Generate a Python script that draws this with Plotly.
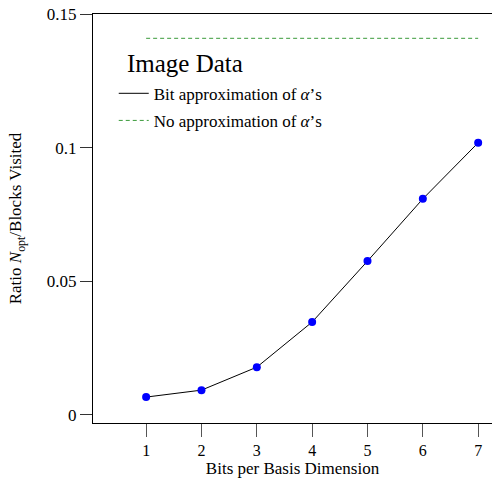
import plotly.graph_objects as go

bits = [1, 2, 3, 4, 5, 6, 7]
ratio_bit = [0.0066, 0.0092, 0.0178, 0.0347, 0.0575, 0.0808, 0.1018]
ratio_noapprox = [0.1409, 0.1409]
noapprox_x = [1, 7]
y_ticks = [0, 0.05, 0.1, 0.15]
y_ticklabels = ["0", "0.05", "0.1", "0.15"]

FONT = "Liberation Serif"

fig = go.Figure()
fig.add_trace(go.Scatter(
    x=bits, y=ratio_bit, mode="lines",
    line=dict(color="black", width=1),
    name="Bit approximation of <i>α</i>’s", legendgroup="a",
))
fig.add_trace(go.Scatter(
    x=noapprox_x, y=ratio_noapprox, mode="lines",
    line=dict(color="#3a9a3a", width=1, dash="4px,3px"),
    name="No approximation of <i>α</i>’s", legendgroup="b",
))
fig.add_trace(go.Scatter(
    x=bits, y=ratio_bit, mode="markers",
    marker=dict(color="#0000ff", size=8),
    showlegend=False,
))

fig.add_annotation(
    text="Image Data", xref="paper", yref="paper", x=0.080, y=0.880,
    xanchor="left", yanchor="middle", showarrow=False,
    font=dict(size=25, family=FONT, color="black"),
)

fig.update_layout(
    width=492, height=481,
    margin=dict(l=93, r=0, t=14, b=58),
    paper_bgcolor="white", plot_bgcolor="white",
    font=dict(family=FONT, color="black", size=16),
    legend=dict(
        x=0.052, y=0.849, xanchor="left", yanchor="top",
        font=dict(size=17, family=FONT),
        bgcolor="rgba(0,0,0,0)", itemwidth=30, tracegroupgap=2,
    ),
    xaxis=dict(
        range=[0.04, 7.25], tickvals=bits, ticktext=[str(b) for b in bits],
        showgrid=False, zeroline=False, showline=True, linecolor="black", linewidth=1,
        mirror=True, ticks="outside", ticklen=13, tickcolor="#555", tickwidth=1,
        title=dict(text="Bits per Basis Dimension", font=dict(size=17), standoff=2),
        tickfont=dict(size=16),
    ),
    yaxis=dict(
        range=[-0.0031, 0.15], tickvals=y_ticks, ticktext=y_ticklabels,
        showgrid=False, zeroline=False, showline=True, linecolor="black", linewidth=1,
        ticks="outside", ticklen=12, tickcolor="#333", tickwidth=1,
        title=dict(text="Ratio <i>N</i><sub>opt</sub>/Blocks Visited", font=dict(size=17), standoff=20),
        tickfont=dict(size=17),
    ),
)

fig.write_html("out.html")
